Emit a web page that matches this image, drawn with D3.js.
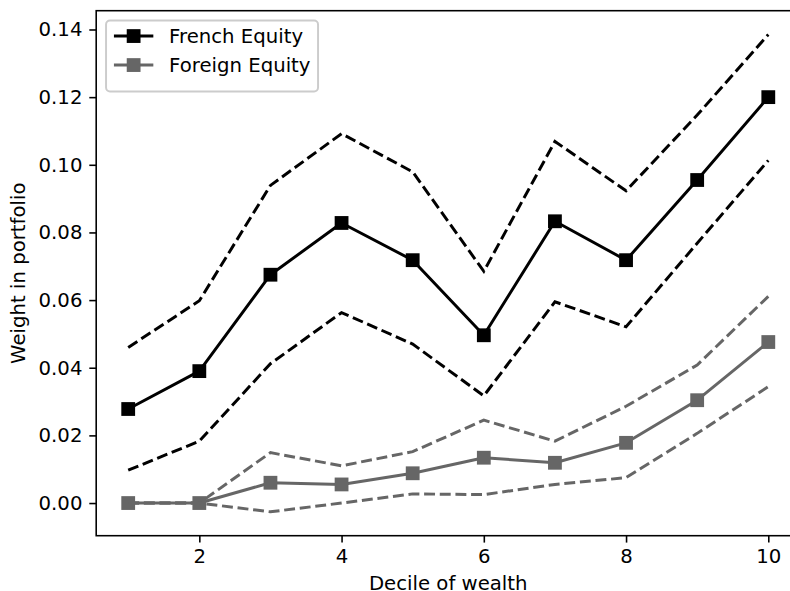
<!DOCTYPE html>
<html>
<head>
<meta charset="utf-8">
<script src="https://cdn.jsdelivr.net/npm/d3@7"></script>
<style>
  body { margin: 0; background: #fff; }
  svg { display: block; font-family: "DejaVu Sans", sans-serif; }
</style>
</head>
<body>
<div id="chart"></div>
<script>
const deciles = [1, 2, 3, 4, 5, 6, 7, 8, 9, 10]

const frenchMean  = [0.0278, 0.0390, 0.0675, 0.0828, 0.0718, 0.0496, 0.0833, 0.0718, 0.0955, 0.1200]
const frenchUpper = [0.0460, 0.0598, 0.0939, 0.1092, 0.0979, 0.0685, 0.1069, 0.0923, 0.1147, 0.1385]
const frenchLower = [0.0097, 0.0183, 0.0412, 0.0563, 0.0470, 0.0317, 0.0595, 0.0521, 0.0768, 0.1013]

const foreignMean  = [0.0, 0.0, 0.0060, 0.0055, 0.0088, 0.0134, 0.0119, 0.0178, 0.0304, 0.0476]
const foreignUpper = [0.0, 0.0, 0.0149, 0.0110, 0.0152, 0.0245, 0.0183, 0.0286, 0.0408, 0.0611]
const foreignLower = [0.0, 0.0, -0.0026, 0.0, 0.0027, 0.0025, 0.0055, 0.0075, 0.0206, 0.0344]

const xTicks = [2, 4, 6, 8, 10]
const yTicks = [0.00, 0.02, 0.04, 0.06, 0.08, 0.10, 0.12, 0.14]

const seriesNames = ["French Equity", "Foreign Equity"]
const seriesColors = ["#000000", "#666666"]

const width = 790
const height = 591
const fs = 19.7            // 10pt at this figure's dpi
const pt = fs / 10

const marginLeft = 96.2
const marginTop = 10.7
const plotW = 704.1
const plotH = 525

// matplotlib style 5% margins on the data extent
const allY = [].concat(frenchUpper, frenchLower, foreignUpper, foreignLower)
const yMin = d3.min(allY), yMax = d3.max(allY)
const yPad = (yMax - yMin) * 0.05
const xPad = (d3.max(deciles) - d3.min(deciles)) * 0.05

const xScale = d3.scaleLinear()
  .domain([d3.min(deciles) - xPad, d3.max(deciles) + xPad])
  .range([marginLeft, marginLeft + plotW])

const yScale = d3.scaleLinear()
  .domain([yMin - yPad, yMax + yPad])
  .range([marginTop + plotH, marginTop])

const svg = d3.select("#chart")
  .append("svg")
  .attr("width", width)
  .attr("height", height)

const line = d3.line()
  .x((d, i) => xScale(deciles[i]))
  .y((d) => yScale(d))

const dash = `${3.7 * 1.5 * pt},${1.6 * 1.5 * pt}`

const groups = [
  {mean: frenchMean, upper: frenchUpper, lower: frenchLower, color: seriesColors[0]},
  {mean: foreignMean, upper: foreignUpper, lower: foreignLower, color: seriesColors[1]}
]

const markerSize = 6 * pt + 1 * pt

groups.forEach((g) => {
  svg.append("path")
    .attr("d", line(g.mean))
    .attr("fill", "none")
    .attr("stroke", g.color)
    .attr("stroke-width", 1.5 * pt)
    .attr("stroke-linejoin", "round")

  svg.selectAll(null)
    .data(g.mean)
    .enter()
    .append("rect")
    .attr("x", (d, i) => xScale(deciles[i]) - markerSize / 2)
    .attr("y", (d) => yScale(d) - markerSize / 2)
    .attr("width", markerSize)
    .attr("height", markerSize)
    .attr("fill", g.color)

  ;[g.upper, g.lower].forEach((band) => {
    svg.append("path")
      .attr("d", line(band))
      .attr("fill", "none")
      .attr("stroke", g.color)
      .attr("stroke-width", 1.5 * pt)
      .attr("stroke-dasharray", dash)
  })
})

// axes
const xAxis = d3.axisBottom(xScale)
  .tickValues(xTicks)
  .tickSize(3.5 * pt)
  .tickPadding(3.5 * pt)
  .tickFormat(d3.format("d"))

const yAxis = d3.axisLeft(yScale)
  .tickValues(yTicks)
  .tickSize(3.5 * pt)
  .tickPadding(3.5 * pt)
  .tickFormat(d3.format(".2f"))

const gx = svg.append("g")
  .attr("transform", `translate(0,${marginTop + plotH})`)
  .call(xAxis)

const gy = svg.append("g")
  .attr("transform", `translate(${marginLeft},0)`)
  .call(yAxis)

;[gx, gy].forEach((g) => {
  g.select(".domain").remove()
  g.selectAll(".tick line").attr("stroke", "#000").attr("stroke-width", 0.8 * pt)
  g.selectAll(".tick text")
    .attr("fill", "#000")
    .style("font-size", fs + "px")
    .style("font-family", "DejaVu Sans")
})

// spines
svg.append("rect")
  .attr("x", marginLeft)
  .attr("y", marginTop)
  .attr("width", plotW)
  .attr("height", plotH)
  .attr("fill", "none")
  .attr("stroke", "#000")
  .attr("stroke-width", 0.8 * pt)

// axis labels
svg.append("text")
  .attr("x", marginLeft + plotW / 2)
  .attr("y", 590)
  .attr("text-anchor", "middle")
  .style("font-size", fs + "px")
  .text("Decile of wealth")

svg.append("text")
  .attr("transform", `translate(25,${marginTop + plotH / 2}) rotate(-90)`)
  .attr("text-anchor", "middle")
  .style("font-size", fs + "px")
  .text("Weight in portfolio")

// legend
const lx = marginLeft + 0.5 * fs
const ly = marginTop + 0.5 * fs
const legend = svg.append("g")

legend.append("rect")
  .attr("x", lx)
  .attr("y", ly)
  .attr("width", 212)
  .attr("height", 71)
  .attr("rx", 0.2 * fs)
  .attr("fill", "#fff")
  .attr("fill-opacity", 0.8)
  .attr("stroke", "#cccccc")
  .attr("stroke-width", 1 * pt)

seriesNames.forEach((name, i) => {
  const cy = ly + 15.5 + i * 29
  const hx = lx + 0.4 * fs
  legend.append("line")
    .attr("x1", hx)
    .attr("x2", hx + 2 * fs)
    .attr("y1", cy)
    .attr("y2", cy)
    .attr("stroke", seriesColors[i])
    .attr("stroke-width", 1.5 * pt)
  legend.append("rect")
    .attr("x", hx + fs - markerSize / 2)
    .attr("y", cy - markerSize / 2)
    .attr("width", markerSize)
    .attr("height", markerSize)
    .attr("fill", seriesColors[i])
  legend.append("text")
    .attr("x", hx + 2 * fs + 0.8 * fs)
    .attr("y", cy)
    .attr("dy", "0.35em")
    .style("font-size", fs + "px")
    .text(name)
})
</script>
</body>
</html>
